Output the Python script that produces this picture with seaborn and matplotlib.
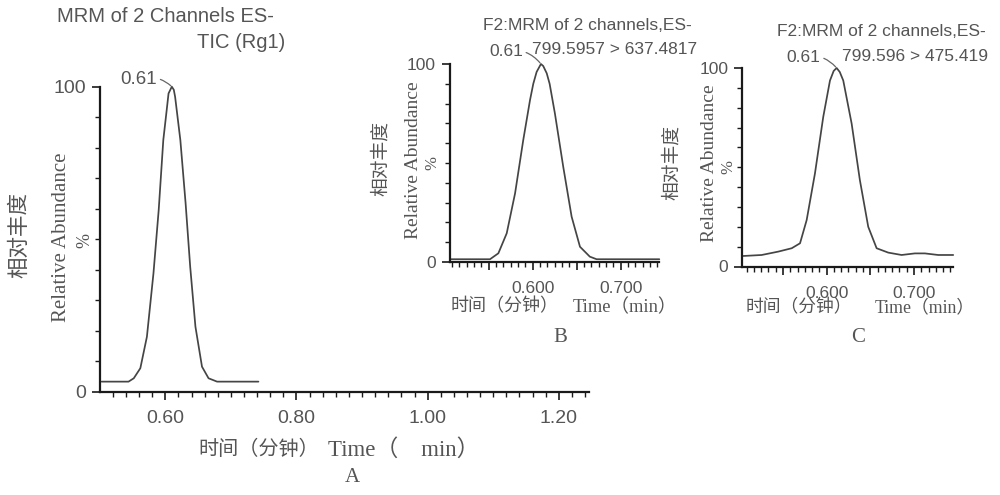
import matplotlib
matplotlib.use("Agg")
import matplotlib.pyplot as plt
import seaborn as sns
from matplotlib.ticker import MultipleLocator, FixedLocator, FixedFormatter

# ---------------- data ----------------
time_a = [0.503, 0.544, 0.552, 0.562, 0.572, 0.582, 0.590, 0.597, 0.602, 0.605, 0.610,
          0.613, 0.615, 0.623, 0.631, 0.638, 0.646, 0.656, 0.666, 0.679, 0.742]
abund_a = [3.3, 3.3, 4.4, 7.7, 18.0, 38.8, 59.6, 82.5, 92.0, 97.8, 100.0,
           99.0, 96.7, 82.5, 61.8, 41.0, 21.3, 8.2, 4.4, 3.3, 3.3]

time_b = [0.507, 0.5515, 0.561, 0.5705, 0.580, 0.5893, 0.597, 0.6007, 0.6045, 0.6094,
          0.612, 0.616, 0.6193, 0.6253, 0.6348, 0.6443, 0.6538, 0.665, 0.6727, 0.744]
abund_b = [1.4, 1.4, 4.4, 14.5, 34.7, 61.6, 81.8, 90.0, 96.0, 100.0,
           99.0, 95.3, 90.0, 75.0, 48.0, 22.9, 7.7, 2.7, 1.4, 1.4]

time_c = [0.5046, 0.5256, 0.5446, 0.560, 0.5695, 0.5771, 0.5866, 0.5961, 0.6038,
          0.608, 0.6114, 0.615, 0.619, 0.6286, 0.638, 0.6476, 0.6572, 0.6705, 0.6858,
          0.701, 0.7125, 0.7277, 0.7449]
abund_c = [5.3, 5.8, 7.5, 9.2, 11.7, 23.4, 46.9, 75.4, 93.7,
           98.5, 100.0, 98.0, 93.7, 72.0, 43.6, 20.0, 9.2, 7.0, 5.8,
           6.6, 6.6, 5.8, 5.8]

title_a = ["MRM of 2 Channels ES-", "TIC (Rg1)"]
title_b = ["F2:MRM of 2 channels,ES-", "799.5957 > 637.4817"]
title_c = ["F2:MRM of 2 channels,ES-", "799.596 > 475.419"]

xticks_a = [0.60, 0.80, 1.00, 1.20]
xticklabels_a = ["0.60", "0.80", "1.00", "1.20"]
xticks_bc = [0.55, 0.60, 0.65, 0.70]
xticklabels_bc = ["", "0.600", "", "0.700"]
yticks = [0, 100]
yticklabels = ["0", "100"]

ylabel_cn = "相对丰度"
ylabel_en = "Relative Abundance"
ylabel_pct = "%"
xlabel_cn = "时间（分钟）"
xlabel_en = "Time（min）"
panel_letters = ["A", "B", "C"]

# ---------------- style ----------------
sns.set_style("ticks")
SANS = ["Liberation Sans", "Noto Sans CJK SC", "DejaVu Sans"]
SERIF = ["Liberation Serif", "Noto Sans CJK SC", "DejaVu Sans"]
plt.rcParams["font.family"] = SANS

TXT = "#555555"
LINE = "#454545"
AXC = "#1a1a1a"

W, H = 1000, 495
fig = plt.figure(figsize=(W / 100, H / 100), dpi=100)


def fx(x):
    return x / W


def fy(y):
    return 1 - y / H


def make_axes(left, right, top, bottom):
    return fig.add_axes([fx(left), fy(bottom), (right - left) / W, (bottom - top) / H])


def style_axes(ax, xlim, xticks, xlabels, xminor, tick_fs, xpad):
    ax.set_xlim(*xlim)
    ax.set_ylim(0, 100)
    for s in ["top", "right"]:
        ax.spines[s].set_visible(False)
    for s in ["left", "bottom"]:
        ax.spines[s].set_linewidth(1.6)
        ax.spines[s].set_color(AXC)
    ax.xaxis.set_major_locator(FixedLocator(xticks))
    ax.xaxis.set_major_formatter(FixedFormatter(xlabels))
    ax.xaxis.set_minor_locator(MultipleLocator(xminor))
    ax.yaxis.set_major_locator(FixedLocator(yticks))
    ax.yaxis.set_major_formatter(FixedFormatter(yticklabels))
    ax.yaxis.set_minor_locator(MultipleLocator(10))
    ax.tick_params(axis="both", which="major", direction="out", length=6, width=1.2,
                   color=AXC, labelcolor=TXT, labelsize=tick_fs)
    ax.tick_params(axis="both", which="minor", direction="out", length=3.5, width=1.0,
                   color=AXC)
    ax.tick_params(axis="x", which="major", pad=xpad)
    ax.tick_params(axis="y", which="major", pad=4)
    ax.set_xlabel("")
    ax.set_ylabel("")


def peak_note(ax, t, a, dx, dy, fs):
    i = a.index(max(a))
    ax.annotate(f"{t[i]:.2f}", xy=(t[i], a[i]), xytext=(dx, dy), textcoords="offset pixels",
                ha="center", va="center", fontsize=fs, color=TXT,
                arrowprops=dict(arrowstyle="-", color="#666666", lw=0.9, shrinkA=0, shrinkB=1,
                                connectionstyle="arc3,rad=-0.3"),
                annotation_clip=False)


def draw_curve(ax, t, a):
    sns.lineplot(x=t, y=a, ax=ax, color=LINE, linewidth=1.25)
    for l in ax.lines:
        l.set_clip_on(False)


def label(x, y, s, fs, rot=0, ha="center", family=SERIF):
    fig.text(fx(x), fy(y), s, rotation=rot, ha=ha, va="center", fontsize=fs,
             color=TXT, family=family)


# ---------------- panel A ----------------
axA = make_axes(100, 589, 86.7, 391.7)
draw_curve(axA, time_a, abund_a)
style_axes(axA, (0.5005, 1.246), xticks_a, xticklabels_a, 0.02, 14, 7)
peak_note(axA, time_a, abund_a, -33, 7, 13.5)

label(57, 16, title_a[0], 14.5, ha="left", family=SANS)
label(285, 42, title_a[1], 14.5, ha="right", family=SANS)
label(20, 235, ylabel_cn, 15.5, rot=90)
label(62, 237, ylabel_en, 15, rot=90)
label(85, 240, ylabel_pct, 13, rot=90)
label(259, 450, xlabel_cn, 14.5)
label(328, 450, xlabel_en.replace("（", "（    "), 16.5, ha="left")
label(352, 478, panel_letters[0], 15)

# ---------------- panel B ----------------
axB = make_axes(450, 659.3, 64, 262)
draw_curve(axB, time_b, abund_b)
style_axes(axB, (0.506, 0.744), xticks_bc, xticklabels_bc, 0.05 / 6, 12.5, 8)
peak_note(axB, time_b, abund_b, -35, 13, 12.5)

label(483, 26, title_b[0], 12.5, ha="left", family=SANS)
label(697, 50, title_b[1], 12.5, ha="right", family=SANS)
label(381, 158, ylabel_cn, 13.5, rot=90)
label(414, 160, ylabel_en, 14, rot=90)
label(432, 163, ylabel_pct, 12, rot=90)
label(505, 307, xlabel_cn, 13)
label(573, 307, xlabel_en, 13.3, ha="left")
label(560, 337, panel_letters[1], 15)

# ---------------- panel C ----------------
axC = make_axes(742.3, 953.3, 68, 266.5)
draw_curve(axC, time_c, abund_c)
style_axes(axC, (0.5034, 0.745), xticks_bc, xticklabels_bc, 0.05 / 6, 12.5, 8)
peak_note(axC, time_c, abund_c, -33, 11, 12.5)

label(777, 31, title_c[0], 12.5, ha="left", family=SANS)
label(988, 56, title_c[1], 12.5, ha="right", family=SANS)
label(672, 163, ylabel_cn, 13.5, rot=90)
label(709, 163, ylabel_en, 14, rot=90)
label(728, 167, ylabel_pct, 12, rot=90)
label(799, 308, xlabel_cn, 12.8)
label(875, 308, xlabel_en, 12.8, ha="left")
label(858, 337, panel_letters[2], 15)

fig.savefig("out.png", dpi=100)
